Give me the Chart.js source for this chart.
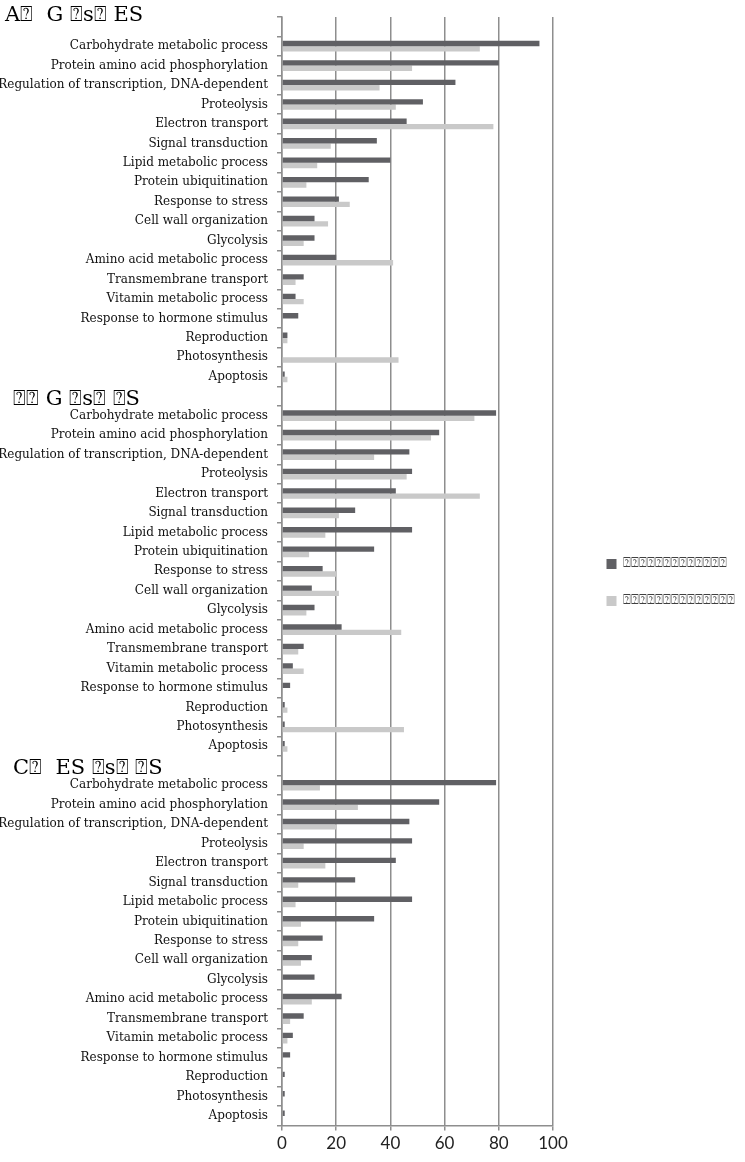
<!DOCTYPE html>
<html>
<head>
<meta charset="utf-8">
<script src="https://cdn.jsdelivr.net/npm/chart.js@4.4.0/dist/chart.umd.min.js"></script>
<style>
  html, body { margin: 0; padding: 0; background: #fff; }
</style>
</head>
<body>
<canvas id="chart" width="745" height="1162"></canvas>
<script>
// categories shared by the three panels
const processes = [
  'Carbohydrate metabolic process',
  'Protein amino acid phosphorylation',
  'Regulation of transcription, DNA-dependent',
  'Proteolysis',
  'Electron transport',
  'Signal transduction',
  'Lipid metabolic process',
  'Protein ubiquitination',
  'Response to stress',
  'Cell wall organization',
  'Glycolysis',
  'Amino acid metabolic process',
  'Transmembrane transport',
  'Vitamin metabolic process',
  'Response to hormone stimulus',
  'Reproduction',
  'Photosynthesis',
  'Apoptosis'
];

// panel headings and legend names (glyphs missing in the source image)
const panelTitles = ['A⍰  G ⍰s⍰ ES', '⍰⍰ G ⍰s⍰ ⍰S', 'C⍰  ES ⍰s⍰ ⍰S'];
const seriesNames = ['⍰⍰⍰⍰⍰⍰⍰⍰⍰⍰⍰⍰⍰', '⍰⍰⍰⍰⍰⍰⍰⍰⍰⍰⍰⍰⍰⍰'];

const darkA  = [95, 80, 64, 52, 46, 35, 40, 32, 21, 12, 12, 20, 8, 5, 6, 2, 0, 1];
const lightA = [73, 48, 36, 42, 78, 18, 13, 9, 25, 17, 8, 41, 5, 8, 0, 2, 43, 2];
const darkB  = [79, 58, 47, 48, 42, 27, 48, 34, 15, 11, 12, 22, 8, 4, 3, 1, 1, 1];
const lightB = [71, 55, 34, 46, 73, 21, 16, 10, 20, 21, 9, 44, 6, 8, 0, 2, 45, 2];
const darkC  = [79, 58, 47, 48, 42, 27, 48, 34, 15, 11, 12, 22, 8, 4, 3, 1, 1, 1];
const lightC = [14, 28, 20, 8, 16, 6, 5, 7, 6, 7, 0, 11, 3, 2, 0, 0, 0, 0];

const xTicks = [0, 20, 40, 60, 80, 100];

const darkPanels = [darkA, darkB, darkC];
const lightPanels = [lightA, lightB, lightC];

// one category axis: heading row, then the 18 processes, for each panel
const labels = [];
const darkData = [];
const lightData = [];
const titleRows = [];
panelTitles.forEach((t, p) => {
  titleRows.push(labels.length);
  labels.push(t);
  darkData.push(null);
  lightData.push(null);
  processes.forEach((name, i) => {
    labels.push(name);
    darkData.push(darkPanels[p][i]);
    lightData.push(lightPanels[p][i]);
  });
});

const axisGray = '#8e8e8e';

// headings sit in the empty row above each panel, left-aligned
const panelTitlePlugin = {
  id: 'panelTitles',
  afterDraw(chart) {
    const { ctx } = chart;
    const y = chart.scales.y;
    const dx = [5, 13, 13];
    const dy = [-11, 3, 3];
    ctx.save();
    ctx.font = '21px "DejaVu Serif"';
    ctx.fillStyle = '#000';
    ctx.textAlign = 'left';
    ctx.textBaseline = 'middle';
    titleRows.forEach((row, p) => {
      ctx.fillText(labels[row], dx[p], y.getPixelForValue(row) + dy[p]);
    });
    ctx.restore();
  }
};

new Chart(document.getElementById('chart'), {
  type: 'bar',
  data: {
    labels: labels,
    datasets: [
      {
        label: seriesNames[0],
        data: darkData,
        backgroundColor: '#606064',
        categoryPercentage: 0.55,
        barPercentage: 1.0
      },
      {
        label: seriesNames[1],
        data: lightData,
        backgroundColor: '#c9c9c9',
        categoryPercentage: 0.55,
        barPercentage: 1.0
      }
    ]
  },
  options: {
    indexAxis: 'y',
    responsive: false,
    animation: false,
    layout: { padding: { top: 8, bottom: 5, left: 0, right: 0 } },
    plugins: {
      legend: {
        position: 'right',
        maxWidth: 220,
        labels: {
          boxWidth: 10,
          boxHeight: 10,
          padding: 24,
          color: '#404040',
          font: { family: '"DejaVu Sans"', size: 13 }
        }
      },
      tooltip: { enabled: false }
    },
    scales: {
      x: {
        type: 'linear',
        position: 'bottom',
        min: 0,
        max: 100,
        afterBuildTicks: s => { s.ticks = xTicks.map(v => ({ value: v })); },
        grid: { color: axisGray, lineWidth: 1.5, tickLength: 5 },
        border: { color: axisGray, width: 1.5 },
        ticks: {
          padding: 3,
          color: '#222',
          font: { family: 'Lato', size: 17 }
        }
      },
      xTop: {
        type: 'linear',
        position: 'top',
        display: true,
        grid: { display: false },
        border: { display: false },
        ticks: { display: false },
        afterFit: s => { s.height = 9; }
      },
      y: {
        type: 'category',
        position: 'left',
        afterFit: s => { s.width = 282; },
        grid: {
          offset: true,
          drawOnChartArea: false,
          tickLength: 5,
          color: axisGray,
          lineWidth: 1.5
        },
        border: { color: axisGray, width: 1.5 },
        ticks: {
          autoSkip: false,
          padding: 9,
          color: '#111',
          font: { family: '"DejaVu Serif"', size: 12 },
          callback: function (v, i) {
            return titleRows.includes(i) ? '' : this.getLabelForValue(v);
          }
        }
      },
      yRight: {
        type: 'linear',
        position: 'right',
        display: true,
        grid: { display: false },
        border: { display: false },
        ticks: { display: false },
        afterFit: s => { s.width = Math.max(0, s.chart.width - 553 - s.chart.legend.width); }
      }
    }
  },
  plugins: [panelTitlePlugin]
});
</script>
</body>
</html>
